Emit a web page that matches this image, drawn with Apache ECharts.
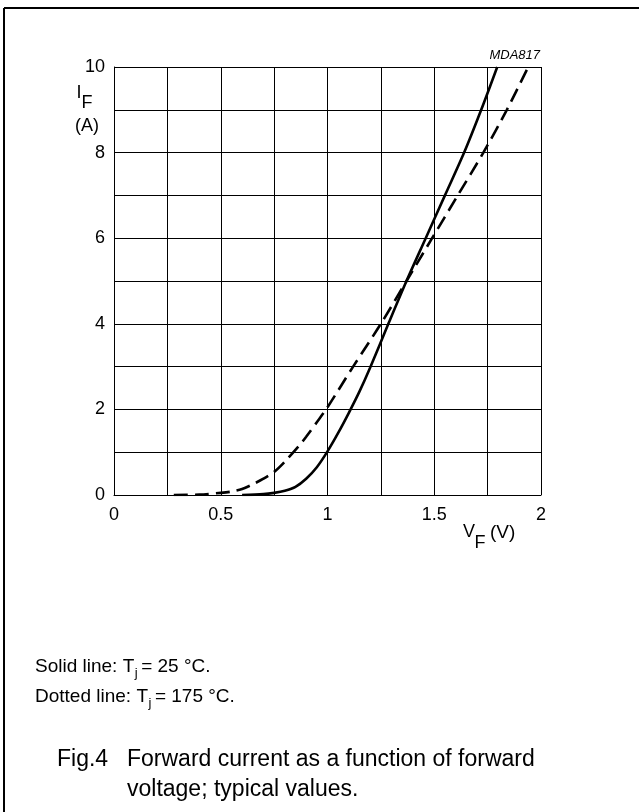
<!DOCTYPE html>
<html>
<head>
<meta charset="utf-8">
<script src="https://cdn.jsdelivr.net/npm/echarts@6/dist/echarts.min.js"></script>
<style>
html,body{margin:0;padding:0;background:#fff;}
#chart{width:639px;height:812px;}
</style>
</head>
<body>
<div id="chart"></div>
<script>
// Data
var xTickLabels = ['0', '0.5', '1', '1.5', '2'];
var yTickLabels = ['0', '2', '4', '6', '8', '10'];
// Solid line: Tj = 25 °C  [VF (V), IF (A)]
var solid25 = [
  [0.60, 0.00], [0.70, 0.02], [0.75, 0.05], [0.80, 0.10], [0.85, 0.19],
  [0.90, 0.38], [0.95, 0.65], [1.00, 1.02], [1.05, 1.45], [1.10, 1.92],
  [1.15, 2.42], [1.20, 2.98], [1.285, 4.00], [1.37, 5.00], [1.46, 6.00],
  [1.55, 7.00], [1.64, 8.00], [1.72, 9.00], [1.795, 10.00]
];
// Dotted line: Tj = 175 °C
var dashed175 = [
  [0.28, 0.00], [0.40, 0.01], [0.50, 0.05], [0.55, 0.08], [0.60, 0.14],
  [0.65, 0.25], [0.70, 0.38], [0.75, 0.54], [0.80, 0.78], [0.875, 1.20],
  [0.90, 1.36], [0.95, 1.70], [1.00, 2.05], [1.12, 3.00], [1.25, 4.00],
  [1.37, 5.00], [1.49, 6.00], [1.61, 7.00], [1.73, 8.00], [1.84, 9.00],
  [1.94, 10.00]
];

var FONT = '"Liberation Sans", Arial, sans-serif';
var chart = echarts.init(document.getElementById('chart'), null, {renderer: 'canvas'});
chart.setOption({
  animation: false,
  backgroundColor: '#fff',
  grid: {left: 114, right: 98, top: 67, bottom: 317, containLabel: false},
  xAxis: {
    type: 'value', min: 0, max: 2, interval: 0.25,
    axisLine: {show: true, lineStyle: {color: '#000', width: 1}},
    axisTick: {show: false},
    splitLine: {show: true, lineStyle: {color: '#000', width: 1}},
    axisLabel: {
      margin: 11, color: '#000', fontSize: 18, fontFamily: FONT,
      formatter: function (v) {
        var i = xTickLabels.indexOf(String(+v.toFixed(2)));
        return i >= 0 ? xTickLabels[i] : '';
      }
    }
  },
  yAxis: {
    type: 'value', min: 0, max: 10, interval: 1,
    axisLine: {show: true, lineStyle: {color: '#000', width: 1}},
    axisTick: {show: false},
    splitLine: {show: true, lineStyle: {color: '#000', width: 1}},
    axisLabel: {
      margin: 9, color: '#000', fontSize: 18, fontFamily: FONT,
      formatter: function (v) {
        var i = yTickLabels.indexOf(String(v));
        return i >= 0 ? yTickLabels[i] : '';
      }
    }
  },
  series: [
    {
      type: 'line', data: solid25, smooth: 0.3, showSymbol: false, clip: true,
      lineStyle: {color: '#000', width: 2.6, type: 'solid'}
    },
    {
      type: 'line', data: dashed175, smooth: 0.3, showSymbol: false, clip: true,
      lineStyle: {color: '#000', width: 2.6, type: [14, 7]}
    }
  ],
  graphic: [
    {type: 'line', shape: {x1: 4, y1: 8, x2: 639, y2: 8}, style: {stroke: '#000', lineWidth: 2}},
    {type: 'line', shape: {x1: 4, y1: 8, x2: 4, y2: 812}, style: {stroke: '#000', lineWidth: 2}},
    {type: 'text', x: 540, y: 55, style: {text: 'MDA817', font: 'italic 13px ' + FONT, fill: '#000', textAlign: 'right', textVerticalAlign: 'middle'}},
    {type: 'text', x: 79, y: 93, style: {text: 'I', font: '18px ' + FONT, fill: '#000', textAlign: 'center', textVerticalAlign: 'middle'}},
    {type: 'text', x: 87, y: 103, style: {text: 'F', font: '18px ' + FONT, fill: '#000', textAlign: 'center', textVerticalAlign: 'middle'}},
    {type: 'text', x: 87, y: 126, style: {text: '(A)', font: '18px ' + FONT, fill: '#000', textAlign: 'center', textVerticalAlign: 'middle'}},
    {type: 'text', x: 469, y: 532, style: {text: 'V', font: '18px ' + FONT, fill: '#000', textAlign: 'center', textVerticalAlign: 'middle'}},
    {type: 'text', x: 480, y: 543, style: {text: 'F', font: '18px ' + FONT, fill: '#000', textAlign: 'center', textVerticalAlign: 'middle'}},
    {type: 'text', x: 490, y: 533, style: {text: '(V)', font: '19px ' + FONT, fill: '#000', textAlign: 'left', textVerticalAlign: 'middle'}},
    {type: 'text', x: 35, y: 667, style: {text: 'Solid line: T', font: '19px ' + FONT, fill: '#000', textVerticalAlign: 'middle'}},
    {type: 'text', x: 35, y: 697, style: {text: 'Dotted line: T', font: '19px ' + FONT, fill: '#000', textVerticalAlign: 'middle'}},
    {type: 'text', x: 57, y: 760, style: {text: 'Fig.4', font: '23px ' + FONT, fill: '#000', textVerticalAlign: 'middle'}},
    {type: 'text', x: 127, y: 760, style: {text: 'Forward current as a function of forward', font: '23px ' + FONT, fill: '#000', textVerticalAlign: 'middle'}},
    {type: 'text', x: 127, y: 790, style: {text: 'voltage; typical values.', font: '23px ' + FONT, fill: '#000', textVerticalAlign: 'middle'}}
  ]
});

// subscript j and the rest of the note lines, placed after the measured text
(function () {
  var ctx = document.createElement('canvas').getContext('2d');
  ctx.font = '19px ' + FONT;
  var w1 = ctx.measureText('Solid line: T').width;
  var w2 = ctx.measureText('Dotted line: T').width;
  ctx.font = '13px ' + FONT;
  var wj = ctx.measureText('j').width;
  chart.setOption({
    graphic: [
      {type: 'text', id: 'j1', x: 35 + w1 + 0.5, y: 673, style: {text: 'j', font: '13px ' + FONT, fill: '#000', textVerticalAlign: 'middle'}},
      {type: 'text', id: 'r1', x: 35 + w1 + wj + 4, y: 667, style: {text: '= 25 °C.', font: '19px ' + FONT, fill: '#000', textVerticalAlign: 'middle'}},
      {type: 'text', id: 'j2', x: 35 + w2 + 0.5, y: 703, style: {text: 'j', font: '13px ' + FONT, fill: '#000', textVerticalAlign: 'middle'}},
      {type: 'text', id: 'r2', x: 35 + w2 + wj + 4, y: 697, style: {text: '= 175 °C.', font: '19px ' + FONT, fill: '#000', textVerticalAlign: 'middle'}}
    ]
  });
})();
</script>
</body>
</html>
